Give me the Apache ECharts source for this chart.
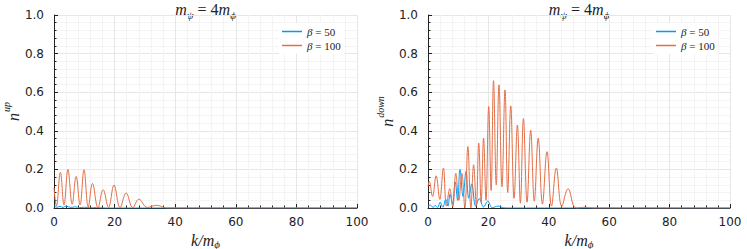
<!DOCTYPE html>
<html>
<head>
<meta charset="utf-8">
<script src="https://cdn.jsdelivr.net/npm/echarts@6/dist/echarts.min.js"></script>
<style>html,body{margin:0;padding:0;background:#fff}#c{width:747px;height:249px}</style>
</head>
<body>
<div id="c"></div>
<script>
// ---- data ----
const xTicks = [0, 20, 40, 60, 80, 100];
const yTickLabels = ['0.0', '0.2', '0.4', '0.6', '0.8', '1.0'];
const seriesNames = ['β = 50', 'β = 100'];

// left panel: n^up
const upK50 = [0, 1, 2, 3, 4, 5.5, 7, 8.5, 10, 12, 14, 17, 20, 100];
const upN50 = [0.012, 0.004, 0.008, 0.003, 0.01, 0.003, 0.006, 0.002, 0.004, 0.001, 0.002, 0, 0, 0];
const upK100 = [0, 0.8, 2.1, 3.3, 4.6, 6.0, 7.3, 8.6, 9.9, 11.3, 12.7, 14.5, 16.2, 18.0, 19.8, 21.8, 23.8, 26.0, 28.0, 30.8, 33.9, 36.5, 38, 100];
const upN100 = [0.103, 0.01, 0.185, 0.015, 0.199, 0.02, 0.164, 0.015, 0.198, 0.005, 0.127, 0.002, 0.095, 0.003, 0.119, 0.002, 0.078, 0.002, 0.046, 0.003, 0.014, 0.002, 0, 0];

// right panel: n^down
const downK50 = [0, 0.8, 1.6, 2.4, 3.2, 4.0, 4.9, 5.9, 6.6, 7.3, 8.1, 9.0, 9.8, 10.6, 11.6, 12.6, 13.5, 14.5, 15.8, 17.0, 18.4, 19.8, 21.3, 23.3, 25, 27, 100];
const downN50 = [0.01, 0.015, 0.004, 0.012, 0.003, 0.03, 0.004, 0.045, 0.01, 0.072, 0.02, 0.135, 0.04, 0.2, 0.06, 0.19, 0.05, 0.125, 0.01, 0.048, 0.005, 0.036, 0.002, 0.01, 0.001, 0, 0];
const downK100 = [0, 0.4, 1.5, 2.7, 3.9, 5.1, 6.1, 7.2, 8.2, 9.2, 10.2, 11.2, 12.2, 13.2, 14.2, 15.1, 16.0, 16.8, 17.6, 18.4, 19.2, 20.1, 20.9, 21.7, 22.6, 23.5, 24.5, 25.5, 26.4, 27.4, 28.5, 29.6, 30.6, 31.6, 32.8, 34.0, 35.2, 36.5, 37.9, 39.4, 40.9, 42.5, 44.3, 46.4, 49, 52, 55, 100];
const downN100 = [0.112, 0.138, 0.06, 0.167, 0.045, 0.207, 0.01, 0.1, 0.005, 0.18, 0.04, 0.18, 0.0, 0.318, 0.0, 0.224, 0.01, 0.336, 0.03, 0.362, 0.04, 0.526, 0.09, 0.66, 0.12, 0.638, 0.11, 0.612, 0.08, 0.529, 0.05, 0.43, 0.025, 0.463, 0.03, 0.403, 0.035, 0.362, 0.02, 0.292, 0.01, 0.207, 0.008, 0.1, 0.0, 0.004, 0, 0];

// ---- build ----
const BLUE = '#009AFA', ORANGE = '#E36F47';
const pairs = (k, n) => k.map((x, i) => [x, n[i]]);
const SERIF = 'Liberation Serif';
const grids = [
  {left: 54, top: 15, width: 303, height: 193, outerBoundsMode: 'none'},
  {left: 428, top: 15, width: 302, height: 193, outerBoundsMode: 'none'}
];
const axisCommon = {
  axisLine: {show: true, onZero: false, lineStyle: {color: '#222', width: 1}},
  axisTick: {show: true, inside: true, length: 4, lineStyle: {color: '#222'}},
  minorTick: {show: true, splitNumber: 5, length: 2.5, lineStyle: {color: '#222'}},
  splitLine: {show: true, lineStyle: {color: '#e6e6e6', width: 1}},
  minorSplitLine: {show: true, lineStyle: {color: '#f4f4f4', width: 1}},
};
const nameRich = {
  i: {fontFamily: SERIF, fontStyle: 'italic', fontSize: 16, color: '#222', verticalAlign: 'top', padding: [0, 0, 0, 0]},
  s: {fontFamily: SERIF, fontStyle: 'italic', fontSize: 11, color: '#222', verticalAlign: 'top', padding: [6, 0, 0, 0]},
  n: {fontFamily: SERIF, fontStyle: 'italic', fontSize: 16, color: '#222', verticalAlign: 'top', padding: [4, 0, 0, 0]},
  p: {fontFamily: SERIF, fontStyle: 'italic', fontSize: 10, color: '#222', verticalAlign: 'top', padding: [0, 0, 0, 1]}
};
const xAxes = grids.map((g, gi) => Object.assign({
  type: 'value', gridIndex: gi, min: xTicks[0], max: xTicks[xTicks.length - 1], interval: xTicks[1] - xTicks[0],
  name: '{i|k/m}{s|ϕ}', nameLocation: 'middle', nameGap: 15,
  nameTextStyle: {rich: nameRich},
  axisLabel: {fontFamily: 'DejaVu Sans', fontSize: 12, color: '#222', margin: 8}
}, axisCommon));
const yNames = ['{n|n}{p|up}', '{n|n}{p|down}'];
const yAxes = grids.map((g, gi) => Object.assign({
  type: 'value', gridIndex: gi, min: 0, max: 1, interval: 0.2,
  name: yNames[gi], nameLocation: 'middle', nameGap: 32, nameRotate: 90,
  nameTextStyle: {rich: nameRich},
  axisLabel: {fontFamily: 'DejaVu Sans', fontSize: 12, color: '#222', margin: 10,
    formatter: v => yTickLabels[Math.round(v / 0.2)]}
}, axisCommon));

function line(name, gi, data, color) {
  return {name, type: 'line', xAxisIndex: gi, yAxisIndex: gi, data, symbol: 'none', showSymbol: false,
    smooth: 0.4, lineStyle: {width: 1, color}, itemStyle: {color}, emphasis: {disabled: true}};
}
const series = [
  line(seriesNames[0], 0, pairs(upK50, upN50), BLUE),
  line(seriesNames[1], 0, pairs(upK100, upN100), ORANGE),
  line(seriesNames[0], 1, pairs(downK50, downN50), BLUE),
  line(seriesNames[1], 1, pairs(downK100, downN100), ORANGE)
];
const legendBase = {
  data: seriesNames, orient: 'vertical', icon: 'rect', itemWidth: 20, itemHeight: 1.5, itemGap: 1,
  backgroundColor: '#fff', padding: [2, 3, 2, 3], selectedMode: false,
  formatter: n => n.replace('β', '{b|β}'),
  textStyle: {fontFamily: SERIF, fontSize: 11, color: '#222', lineHeight: 13,
    rich: {b: {fontFamily: SERIF, fontStyle: 'italic', fontSize: 11, color: '#222', lineHeight: 13}}}
};
const titleRich = {
  m: {fontFamily: SERIF, fontStyle: 'italic', fontSize: 16, fill: '#222', verticalAlign: 'top'},
  t: {fontFamily: SERIF, fontSize: 16, fill: '#222', verticalAlign: 'top'},
  s: {fontFamily: SERIF, fontStyle: 'italic', fontSize: 11, fill: '#222', verticalAlign: 'top', padding: [8, 0, 0, 0]}
};
const titles = grids.map(g => ({
  type: 'text', x: g.left + g.width / 2, y: 1,
  style: {text: '{m|m}{s|ψ}{t| = 4}{m|m}{s|ϕ}', rich: titleRich, fill: '#222', fontFamily: SERIF,
    align: 'center', verticalAlign: 'top'}
}));

const chart = echarts.init(document.getElementById('c'), null, {renderer: 'svg'});
chart.setOption({
  animation: false,
  grid: grids,
  xAxis: xAxes,
  yAxis: yAxes,
  legend: [
    Object.assign({left: 279, top: 23}, legendBase),
    Object.assign({left: 653, top: 23}, legendBase)
  ],
  graphic: titles,
  series
});
</script>
</body>
</html>
